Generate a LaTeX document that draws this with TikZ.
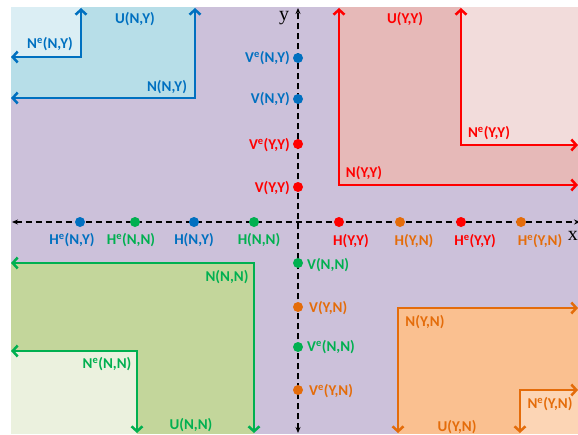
\documentclass[tikz,border=0pt]{standalone}
\usepackage{fontspec}
\setmainfont{Carlito}
\newfontfamily\axisfont{Liberation Serif}
\usetikzlibrary{arrows.meta,positioning}

\definecolor{bgpurple}{HTML}{CCC1DA}
\definecolor{lineblue}{HTML}{0070C0}
\definecolor{fillblue}{HTML}{B7DEE8}
\definecolor{paleblue}{HTML}{DBEEF4}
\definecolor{linered}{HTML}{FF0000}
\definecolor{fillred}{HTML}{E6B9B8}
\definecolor{palered}{HTML}{F2DCDB}
\definecolor{linegreen}{HTML}{00B050}
\definecolor{fillgreen}{HTML}{C3D69B}
\definecolor{palegreen}{HTML}{EBF1DE}
\definecolor{lineorange}{HTML}{E46C0A}
\definecolor{fillorange}{HTML}{FAC090}
\definecolor{paleorange}{HTML}{FCD5B5}

\newcommand{\esup}{\textsuperscript{e}}

\begin{document}
\begin{tikzpicture}[x=1pt,y=-1pt,
		bound/.style={draw=#1, line width=2.5pt,
			{Straight Barb[length=5pt,width=11pt]}-{Straight Barb[length=5pt,width=11pt]}},
		axis/.style={draw=black, line width=1.3pt, dash pattern=on 6pt off 4pt,
			{Stealth[length=6pt,width=5pt]}-{Stealth[length=6pt,width=5pt]}},
		dot/.style={circle, fill=#1, inner sep=0pt, minimum size=10pt},
		tag/.style={text=#1, font=\bfseries\fontsize{15}{17}\selectfont, inner sep=0pt},
	]
	\useasboundingbox (0,0) rectangle (578,434);
	\fill[bgpurple] (11,7) rectangle (578,434);
	
	% shaded zones
	\fill[fillblue] (11,7) rectangle (195,98);
	\fill[paleblue] (11,7) rectangle (81,57);
	\fill[fillred] (339,7) rectangle (578,185);
	\fill[palered] (461,7) rectangle (578,145);
	\fill[fillgreen] (11,263) rectangle (254,434);
	\fill[palegreen] (11,351) rectangle (137,434);
	\fill[fillorange] (398,308) rectangle (578,434);
	\fill[paleorange] (520,390) rectangle (578,434);
	
	% zone borders
	\coordinate (cNY) at (195,98);
	\coordinate (cNYw) at (11,98);
	\coordinate (cNYn) at (195,8);
	\coordinate (ceNY) at (81,57);
	\coordinate (ceNYw) at (11,57);
	\coordinate (ceNYn) at (81,8);
	\draw[bound=lineblue] (cNYw) -- (cNY) -- (cNYn);
	\draw[bound=lineblue] (ceNYw) -- (ceNY) -- (ceNYn);
	
	\coordinate (cYY) at (339,185);
	\coordinate (cYYn) at (339,8);
	\coordinate (cYYe) at (578,185);
	\coordinate (ceYY) at (461,145);
	\coordinate (ceYYn) at (461,8);
	\coordinate (ceYYe) at (578,145);
	\draw[bound=linered] (cYYn) -- (cYY) -- (cYYe);
	\draw[bound=linered] (ceYYn) -- (ceYY) -- (ceYYe);
	
	\coordinate (cNN) at (254,263);
	\coordinate (cNNw) at (11,263);
	\coordinate (cNNs) at (254,433);
	\coordinate (ceNN) at (137,351);
	\coordinate (ceNNw) at (11,351);
	\coordinate (ceNNs) at (137,433);
	\draw[bound=linegreen] (cNNw) -- (cNN) -- (cNNs);
	\draw[bound=linegreen] (ceNNw) -- (ceNN) -- (ceNNs);
	
	\coordinate (cYN) at (398,308);
	\coordinate (cYNe) at (578,308);
	\coordinate (cYNs) at (398,433);
	\coordinate (ceYN) at (520,390);
	\coordinate (ceYNe) at (578,390);
	\coordinate (ceYNs) at (520,433);
	\draw[bound=lineorange] (cYNe) -- (cYN) -- (cYNs);
	\draw[bound=lineorange] (ceYNe) -- (ceYN) -- (ceYNs);
	
	% zone names
	\node[tag=lineblue] (uNY) at (135,19) {U(N,Y)};
	\node[tag=lineblue] (nNY) at (167,87) {N(N,Y)};
	\node[tag=lineblue] (neNY) at (50,44) {N\esup(N,Y)};
	\node[tag=linered] (uYY) at (405,19) {U(Y,Y)};
	\node[tag=linered] (nYY) at (364,173) {N(Y,Y)};
	\node[tag=linered] (neYY) at (489,133) {N\esup(Y,Y)};
	\node[tag=linegreen] (nNN) at (227,277) {N(N,N)};
	\node[tag=linegreen] (neNN) at (107,364) {N\esup(N,N)};
	\node[tag=linegreen] (uNN) at (191,425) {U(N,N)};
	\node[tag=lineorange] (nYN) at (425,322) {N(Y,N)};
	\node[tag=lineorange] (neYN) at (550,404) {N\esup(Y,N)};
	\node[tag=lineorange] (uYN) at (457,427) {U(Y,N)};
	
	% axes
	\coordinate (xl) at (12,222);
	\coordinate (xr) at (580,222);
	\coordinate (yt) at (298,8);
	\coordinate (yb) at (298,433);
	\draw[axis] (xl) -- (xr);
	\draw[axis] (yb) -- (yt);
	\node[font=\axisfont\fontsize{20}{22}\selectfont, inner sep=0pt] (ylab) at (284,18) {y};
	\node[font=\axisfont\fontsize{20}{22}\selectfont, inner sep=0pt, anchor=east] (xlab) at (578,236) {x};
	
	% points on the x axis
	\node[dot=lineblue] (HeNY) at (80,222) {};
	\node[dot=linegreen] (HeNN) at (135,222) {};
	\node[dot=lineblue] (HNY) at (194,222) {};
	\node[dot=linegreen] (HNN) at (254,222) {};
	\node[dot=linered] (HYY) at (339,222) {};
	\node[dot=lineorange] (HYN) at (400,222) {};
	\node[dot=linered] (HeYY) at (461,222) {};
	\node[dot=lineorange] (HeYN) at (521,222) {};
	\node[tag=lineblue] (tHeNY) at (72,240) {H\esup(N,Y)};
	\node[tag=linegreen] (tHeNN) at (131,240) {H\esup(N,N)};
	\node[tag=lineblue] (tHNY) at (194,240) {H(N,Y)};
	\node[tag=linegreen] (tHNN) at (259,240) {H(N,N)};
	\node[tag=linered] (tHYY) at (351,241) {H(Y,Y)};
	\node[tag=lineorange] (tHYN) at (414,241) {H(Y,N)};
	\node[tag=linered] (tHeYY) at (475,241) {H\esup(Y,Y)};
	\node[tag=lineorange] (tHeYN) at (540,241) {H\esup(Y,N)};
	
	% points on the y axis
	\node[dot=lineblue] (VeNY) at (298,58) {};
	\node[dot=lineblue] (VNY) at (298,99) {};
	\node[dot=linered] (VeYY) at (298,144) {};
	\node[dot=linered] (VYY) at (298,187) {};
	\node[dot=linegreen] (VNN) at (298,263) {};
	\node[dot=lineorange] (VYN) at (298,307) {};
	\node[dot=linegreen] (VeNN) at (298,347) {};
	\node[dot=lineorange] (VeYN) at (298,390) {};
	\node[tag=lineblue, anchor=east] (tVeNY) at (290,58) {V\esup(N,Y)};
	\node[tag=lineblue, anchor=east] (tVNY) at (290,99) {V(N,Y)};
	\node[tag=linered, anchor=east] (tVeYY) at (290,145) {V\esup(Y,Y)};
	\node[tag=linered, anchor=east] (tVYY) at (290,188) {V(Y,Y)};
	\node[tag=linegreen, anchor=west] (tVNN) at (307,265) {V(N,N)};
	\node[tag=lineorange, anchor=west] (tVYN) at (309,308) {V(Y,N)};
	\node[tag=linegreen, anchor=west] (tVeNN) at (307,347) {V\esup(N,N)};
	\node[tag=lineorange, anchor=west] (tVeYN) at (309,391) {V\esup(Y,N)};
\end{tikzpicture}
\end{document}
